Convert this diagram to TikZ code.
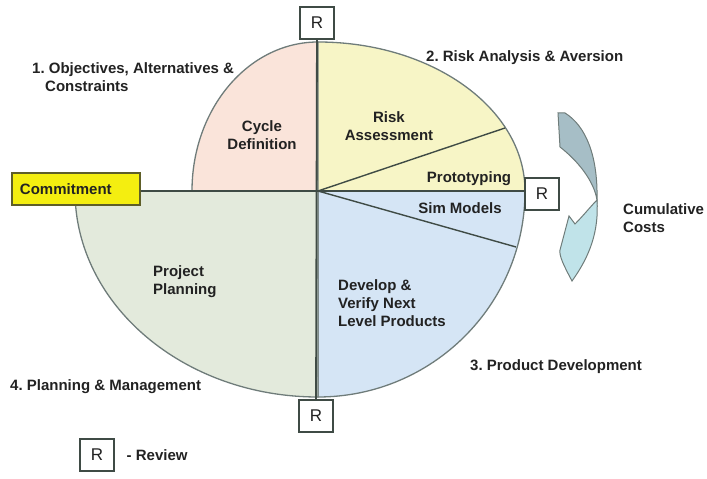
\documentclass[tikz,border=0pt]{standalone}
\usepackage{fontspec}
\setmainfont{Liberation Sans}
\usetikzlibrary{positioning}

\definecolor{pinkq}{HTML}{FAE4DA}
\definecolor{yellowq}{HTML}{F7F5C6}
\definecolor{blueq}{HTML}{D5E5F5}
\definecolor{greenq}{HTML}{E3EADC}
\definecolor{arcline}{HTML}{6F7C7A}
\definecolor{divline}{HTML}{3F4B45}
\definecolor{txt}{HTML}{222222}
\definecolor{commitfill}{HTML}{F4EE10}
\definecolor{commitline}{HTML}{5E5E28}
\definecolor{costtop}{HTML}{A6BEC6}
\definecolor{costbot}{HTML}{C0E3E9}

\begin{document}
\begin{tikzpicture}[x=1bp, y=1bp, text=txt,
    font=\fontsize{15bp}{18bp}\selectfont\bfseries\frenchspacing,
    rbox/.style={draw=divline, fill=white, line width=1.1bp, minimum width=34bp,
      minimum height=32bp, inner sep=0pt, font=\fontsize{17bp}{17bp}\selectfont},
    quad/.style={draw=arcline, line width=1.3bp},
    divider/.style={draw=divline, line width=1.8bp}]
    \useasboundingbox (-318,191) rectangle (389,-288);
    \coordinate (c) at (0,0);
    % the four quadrants
    \filldraw[quad, fill=pinkq] (c) -- (-126,0) arc[start angle=180, end angle=90, x radius=126, y radius=149] -- cycle;
    \filldraw[quad, fill=yellowq] (c) -- (0,149) arc[start angle=90, end angle=0, x radius=207, y radius=149] -- cycle;
    \filldraw[quad, fill=blueq] (c) -- (207,0) arc[start angle=0, end angle=-90, x radius=207, y radius=206] -- cycle;
    \filldraw[quad, fill=greenq] (c) -- (0,-206) arc[start angle=270, end angle=180, x radius=243, y radius=206] -- cycle;
    \coordinate (riskend) at (187,63);
    \coordinate (simend) at (198,-56);
    \draw[divider, line width=1.4bp] (c) -- (riskend);
    \draw[divider, line width=1.4bp] (c) -- (simend);

    % review boxes and commitment
    \node[rbox] (rtop) at (-1,168) {R};
    \node[rbox] (rright) at (224,-3) {R};
    \node[rbox] (rbot) at (-2,-225) {R};
    \node[draw=commitline, fill=commitfill, line width=1.1bp, minimum height=32bp,
      text width=112bp, inner sep=8bp, align=left] (commit) at (-242,2) {Commitment};
    \draw[divider] (rtop) -- (rbot);
    \draw[divider] (commit.east |- c) -- (c -| rright.west);

    % labels inside
    \node[align=center] (cyclelbl) at (-56,56) {Cycle\\Definition};
    \node[align=center] (assesslbl) at (71,65) {Risk\\Assessment};
    \node (protolbl) at (151,12) {Prototyping};
    \node (simlbl) at (142,-17) {Sim Models};
    \node[anchor=west, align=left, inner sep=0pt] (devlbl) at (20,-112) {Develop \&\\Verify Next\\Level Products};
    \node[anchor=west, align=left, inner sep=0pt] (planlbl) at (-165,-91) {Project\\Planning};

    % phase labels
    \node[anchor=west, align=left, inner sep=0pt] (obj) at (-286,114) {1. Objectives, Alternatives \&\\\hspace*{13bp}Constraints};
    \node[anchor=west, inner sep=0pt] (riskphase) at (108,133) {2. Risk Analysis \& Aversion};
    \node[anchor=west, inner sep=0pt] (prodphase) at (152,-176) {3. Product Development};
    \node[anchor=west, inner sep=0pt] (mgmtphase) at (-308,-196) {4. Planning \& Management};

    % cumulative costs arrow
    \filldraw[draw=arcline, line width=1bp, fill=costtop] (240,78) -- (247,78)
      .. controls (268,65) and (280,35) .. (279,-9)
      .. controls (276,10) and (260,30) .. (242,44) -- cycle;
    \filldraw[draw=arcline, line width=1bp, fill=costbot] (279,-9)
      .. controls (281,-40) and (272,-65) .. (254,-90)
      .. controls (246,-75) and (241,-65) .. (242,-59)
      -- (251,-25) -- (257,-33)
      .. controls (265,-25) and (273,-15) .. (279,-9) -- cycle;
    \node[anchor=west, align=left, inner sep=0pt] (costlbl) at (305,-27) {Cumulative\\Costs};

    % key
    \node[rbox] (rkey) at (-221,-264) {R};
    \node[right=12bp of rkey, inner sep=0pt] (keylbl) {- Review};
\end{tikzpicture}
\end{document}
